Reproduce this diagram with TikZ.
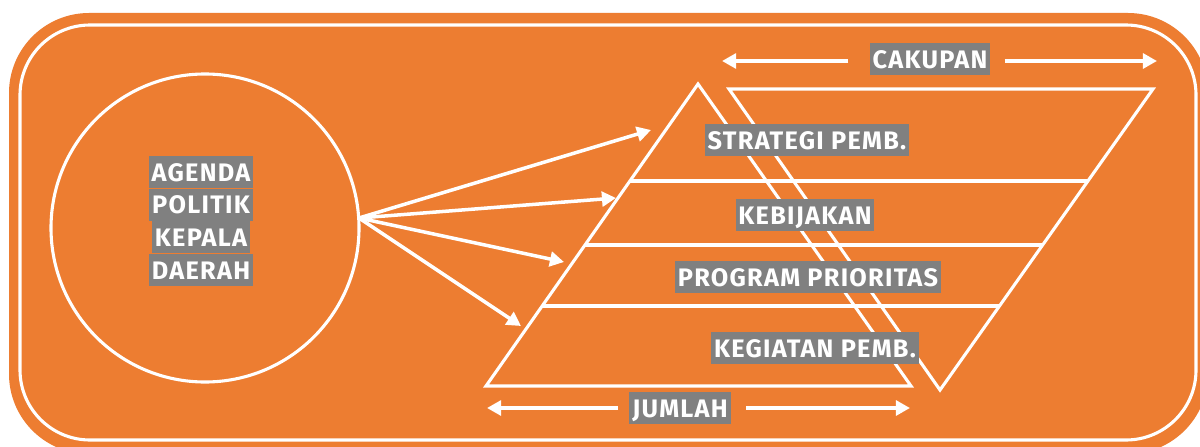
\documentclass[tikz,border=0pt]{standalone}
\usepackage{fontspec}
\setmainfont{Fira Sans}
\usepackage{xcolor}
\usetikzlibrary{arrows.meta, positioning}

\definecolor{orangebg}{HTML}{ED7D31}
\definecolor{boxgray}{HTML}{808080}
\newcommand{\lblfont}{\fontsize{18}{22}\selectfont\bfseries\addfontfeature{LetterSpace=5}}

\tikzset{
	lbl/.style={fill=boxgray, text=white, font=\lblfont, inner xsep=2pt, inner ysep=0pt, text height=18pt, text depth=4.8pt},
	wline/.style={draw=white, line width=2.2pt},
	warrow/.style={white, line width=2.5pt, -{Triangle[length=10pt, width=10.5pt]}}
}

\begin{document}
\begin{tikzpicture}[x=0.025cm, y=-0.025cm]
	\clip (0,0) rectangle (1200,446);
	\fill[white] (0,0) rectangle (1200,446);
	% frame
	\fill[orangebg, rounded corners=2cm] (9,13) rectangle (1208,454);
	\draw[wline, rounded corners=1.75cm] (20,25) rectangle (1196,440);
	
	% left circle
	\node[wline, circle, minimum size=308*0.025cm] (agenda) at (205,228) {};
	\node[lbl] (ag1) at (201,172) {AGENDA};
	\node[lbl, below=0pt of ag1] (ag2) {POLITIK};
	\node[lbl, below=0pt of ag2] (ag3) {KEPALA};
	\node[lbl, below=0pt of ag3] (ag4) {DAERAH};
	
	% pyramid and funnel
	\coordinate (apex) at (698,84);
	\coordinate (pl) at (486,386);
	\coordinate (pr) at (911,386);
	\coordinate (fl) at (729,89);
	\coordinate (fr) at (1153,89);
	\coordinate (fb) at (940,390);
	\draw[wline, line join=miter] (apex) -- (pl) -- (pr) -- cycle;
	\draw[wline, line join=miter] (fl) -- (fr) -- (fb) -- cycle;
	
	\coordinate (h1l) at (630,181);
	\coordinate (h1r) at (1088,181);
	\coordinate (h2l) at (585,245);
	\coordinate (h2r) at (1043,245);
	\coordinate (h3l) at (542,306);
	\coordinate (h3r) at (999,306);
	\draw[wline] (h1l) -- (h1r);
	\draw[wline] (h2l) -- (h2r);
	\draw[wline] (h3l) -- (h3r);
	
	% levels
	\node[lbl] (strategi) at (807,140) {STRATEGI PEMB.};
	\node[lbl] (kebijakan) at (805,215) {KEBIJAKAN};
	\node[lbl] (program) at (808,277) {PROGRAM PRIORITAS};
	\node[lbl] (kegiatan) at (815,348) {KEGIATAN PEMB.};
	
	% fan of arrows
	\coordinate (fan) at (359,218);
	\coordinate (t1) at (651,130);
	\coordinate (t2) at (616,198);
	\coordinate (t3) at (564,262);
	\coordinate (t4) at (521,326);
	\draw[warrow] (fan) -- (t1);
	\draw[warrow] (fan) -- (t2);
	\draw[warrow] (fan) -- (t3);
	\draw[warrow] (fan) -- (t4);
	
	% scale arrows
	\node[lbl] (cakupan) at (930,59) {CAKUPAN};
	\coordinate (ck1) at (722,61);
	\coordinate (ck2) at (1157,61);
	\draw[warrow] ([xshift=-15pt]cakupan.west |- ck1) -- (ck1);
	\draw[warrow] ([xshift=10pt]cakupan.east |- ck2) -- (ck2);
	
	\node[lbl] (jumlah) at (680,408) {JUMLAH};
	\coordinate (jm1) at (487,408);
	\coordinate (jm2) at (910,408);
	\draw[warrow] ([xshift=-8pt]jumlah.west |- jm1) -- (jm1);
	\draw[warrow] ([xshift=11pt]jumlah.east |- jm2) -- (jm2);
\end{tikzpicture}
\end{document}
